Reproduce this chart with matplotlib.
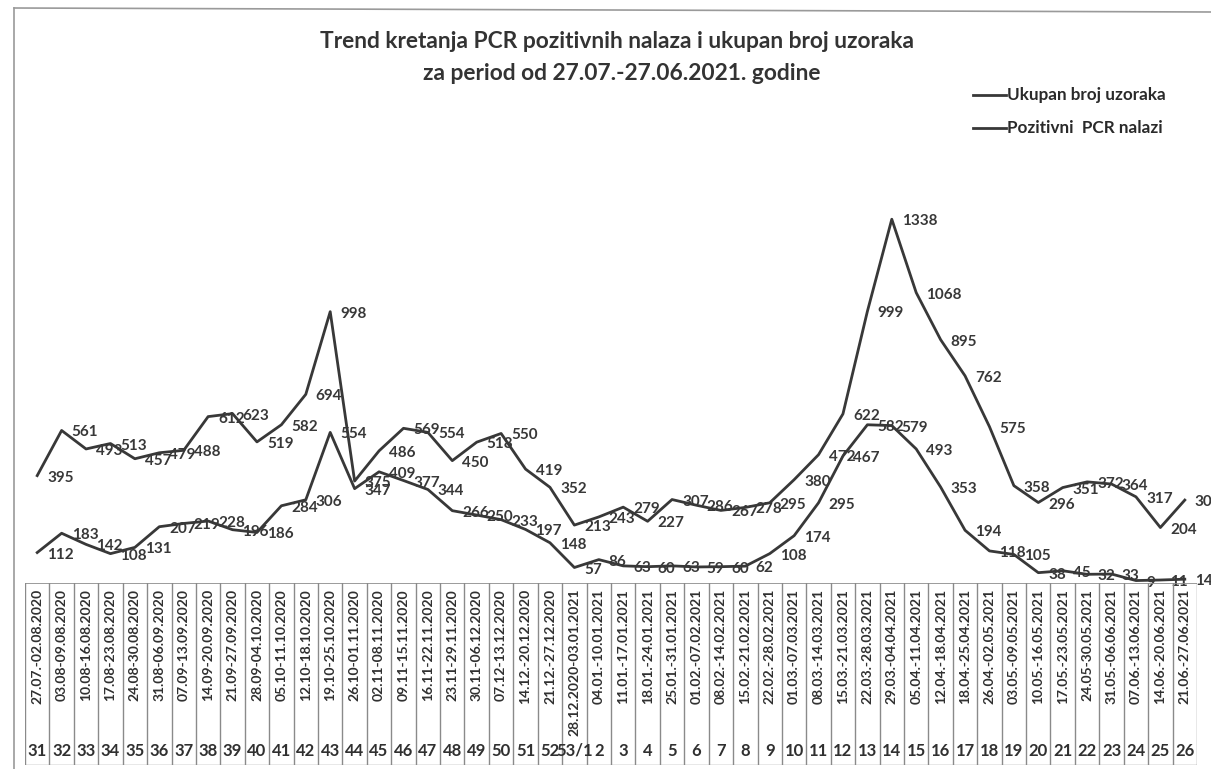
import matplotlib
matplotlib.use("Agg")
import matplotlib.pyplot as plt
from matplotlib.lines import Line2D

# weeks (2020 -> 2021)
weeks = [str(w) for w in range(31, 53)] + ["53/1"] + [str(w) for w in range(2, 27)]
periods = ["27.07.-02.08.2020", "03.08-09.08.2020", "10.08-16.08.2020", "17.08-23.08.2020",
           "24.08-30.08.2020", "31.08-06.09.2020", "07.09-13.09.2020", "14.09-20.09.2020",
           "21.09-27.09.2020", "28.09-04.10.2020", "05.10-11.10.2020", "12.10-18.10.2020",
           "19.10-25.10.2020", "26.10-01.11.2020", "02.11-08.11.2020", "09.11-15.11.2020",
           "16.11-22.11.2020", "23.11-29.11.2020", "30.11-06.12.2020", "07.12-13.12.2020",
           "14.12.-20.12.2020", "21.12.-27.12.2020", "28.12.2020-03.01.2021", "04.01.-10.01.2021",
           "11.01.-17.01.2021", "18.01.-24.01.2021", "25.01.-31.01.2021", "01.02.-07.02.2021",
           "08.02.-14.02.2021", "15.02.-21.02.2021", "22.02.-28.02.2021", "01.03.-07.03.2021",
           "08.03.-14.03.2021", "15.03.-21.03.2021", "22.03.-28.03.2021", "29.03.-04.04.2021",
           "05.04.-11.04.2021", "12.04.-18.04.2021", "18.04.-25.04.2021", "26.04.-02.05.2021",
           "03.05.-09.05.2021", "10.05.-16.05.2021", "17.05.-23.05.2021", "24.05-30.05.2021",
           "31.05.-06.06.2021", "07.06.-13.06.2021", "14.06.-20.06.2021", "21.06.-27.06.2021"]

ukupno = [395, 561, 493, 513, 457, 479, 488, 612, 623, 519, 582, 694, 998, 375, 486, 569,
          554, 450, 518, 550, 419, 352, 213, 243, 279, 227, 307, 286, 267, 278, 295, 380,
          472, 622, 999, 1338, 1068, 895, 762, 575, 358, 296, 351, 372, 364, 317, 204, 305]
pozitivni = [112, 183, 142, 108, 131, 207, 219, 228, 196, 186, 284, 306, 554, 347, 409, 377,
             344, 266, 250, 233, 197, 148, 57, 86, 63, 60, 63, 59, 60, 62, 108, 174,
             295, 467, 582, 579, 493, 353, 194, 118, 105, 38, 45, 32, 33, 9, 11, 14]

W, H = 1211, 769
col = "#383838"
fnt = "Lato"

fig = plt.figure(figsize=(W / 100, H / 100), dpi=100)

# outer frame of the scanned chart
fig.add_artist(Line2D([14 / W, 1], [1 - 8 / H, 1 - 12 / H], color="#9a9a9a", lw=1.2))
fig.add_artist(Line2D([14 / W, 14 / W], [1 - 8 / H, 0], color="#9a9a9a", lw=1.2))

n = len(weeks)
x = list(range(n))
left, right = 25, 1197
top, base = 148, 583
ax = fig.add_axes([left / W, 1 - base / H, (right - left) / W, (base - top) / H])
ax.set_xlim(-0.5, n - 0.5)
ax.set_ylim(0, 1600)
ax.axis("off")

ax.plot(x, ukupno, color=col, lw=2.0, clip_on=False)
ax.plot(x, pozitivni, color=col, lw=2.0, clip_on=False)
for i in range(n):
    ax.annotate(str(ukupno[i]), (x[i], ukupno[i]), xytext=(10, -2), textcoords="offset pixels",
                ha="left", va="center", fontsize=11, fontweight="bold", family=fnt, color=col,
                annotation_clip=False)
    ax.annotate(str(pozitivni[i]), (x[i], pozitivni[i]), xytext=(10, -2), textcoords="offset pixels",
                ha="left", va="center", fontsize=11, fontweight="bold", family=fnt, color=col,
                annotation_clip=False)

# title
fig.text(617 / W, 1 - 42 / H, "Trend kretanja PCR pozitivnih nalaza i ukupan broj uzoraka",
         ha="center", va="center", fontsize=16.4, fontweight="bold", family=fnt, color="#333333")
fig.text(622 / W, 1 - 73 / H, "za period od 27.07.-27.06.2021. godine",
         ha="center", va="center", fontsize=16.4, fontweight="bold", family=fnt, color="#333333")

# legend
for yy, lab in [(95, "Ukupan broj uzoraka"), (128, "Pozitivni  PCR nalazi")]:
    fig.add_artist(Line2D([973 / W, 1006 / W], [1 - yy / H, 1 - yy / H], color=col, lw=2.0))
    fig.text(1007 / W, 1 - yy / H, lab, ha="left", va="center", fontsize=12.3,
             fontweight="bold", family=fnt, color="#2a2a2a")

# data table under the chart
bottom = 765
axt = fig.add_axes([left / W, 1 - bottom / H, (right - left) / W, (bottom - base) / H])
axt.set_xlim(-0.5, n - 0.5)
axt.set_ylim(bottom - base, 0)
axt.axis("off")
lc = "#8a8a8a"
axt.axhline(0, color=lc, lw=1.2)
axt.axhline(bottom - base, color=lc, lw=1.0)
for i in range(n + 1):
    axt.axvline(i - 0.5, color=lc, lw=1.0)
for i in range(n):
    axt.text(x[i], 6, periods[i], rotation=90, ha="center", va="top", fontsize=10,
             fontweight="bold", family=fnt, color="#303030")
    axt.text(x[i], 168, weeks[i], ha="center", va="center", fontsize=12,
             fontweight="bold", family=fnt, color="#303030")

fig.savefig("out.png", dpi=100)
